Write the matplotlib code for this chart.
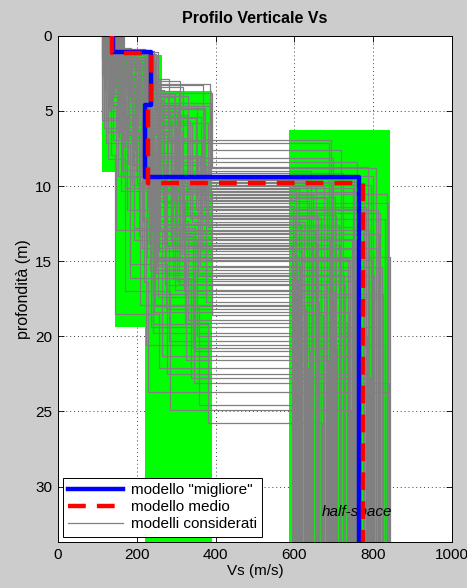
import matplotlib.pyplot as plt

plt.rcParams['font.family'] = ['Liberation Sans', 'DejaVu Sans']

# search ranges (green boxes): vs min, vs max, depth top, depth bottom
box_vmin = [111, 145, 220, 587]
box_vmax = [175, 265, 392, 843]
box_ztop = [1.1, 1.3, 3.7, 6.25]
box_zbot = [9.05, 19.4, 40.0, 40.0]

# considered models (grey)
vs1 = [118, 125, 131, 144, 152, 160, 113, 137, 149, 127, 165, 121, 141, 134, 156, 116, 147, 129, 162, 139,
       123, 153, 114, 143, 136, 158, 126, 150, 119, 133, 145, 167, 128, 154, 117, 138, 148, 124, 161, 131,
       142, 115, 157, 135, 122, 151, 130, 164, 120, 146, 139, 127, 155, 112, 143, 133, 159, 121, 148, 136,
       119, 146, 132, 158, 124, 141, 113, 150, 136, 163, 128, 144, 117, 155, 139, 122, 160, 133, 147, 115,
       152, 126, 142, 166, 130, 137, 118, 157, 145, 125, 161, 134, 149, 114, 140, 129, 153, 121, 143, 135]
z1 = [1.3, 2.1, 0.9, 3.4, 1.7, 5.2, 2.6, 1.1, 4.0, 1.9, 7.3, 1.4, 2.9, 1.0, 3.8, 6.1, 1.6, 2.3, 8.9, 1.2,
      4.6, 2.0, 1.5, 3.1, 0.8, 5.8, 2.5, 1.8, 3.6, 1.3, 2.2, 4.3, 1.0, 6.7, 2.8, 1.6, 3.3, 1.2, 2.4, 5.0,
      1.9, 1.4, 3.0, 7.9, 2.0, 1.1, 4.8, 2.7, 1.7, 3.5, 1.3, 6.4, 2.2, 1.5, 4.1, 0.9, 2.6, 5.5, 1.8, 3.2,
      1.5, 2.4, 1.0, 3.7, 1.2, 2.0, 5.6, 1.4, 2.8, 1.1, 4.4, 1.8, 3.1, 1.3, 6.9, 2.2, 1.6, 3.9, 1.0, 2.5,
      1.7, 8.2, 1.2, 2.9, 1.9, 4.7, 1.4, 2.1, 3.4, 1.1, 5.3, 1.5, 2.6, 1.3, 3.8, 2.3, 1.6, 7.1, 1.9, 2.7]
vs2 = [188, 232, 164, 210, 247, 175, 221, 199, 152, 238, 183, 206, 258, 170, 226, 193, 149, 215, 241, 180,
       230, 161, 203, 252, 186, 219, 172, 236, 197, 155, 224, 245, 178, 209, 167, 233, 191, 250, 158, 213,
       228, 184, 201, 146, 239, 176, 217, 255, 195, 163, 229, 207, 181, 243, 169, 222, 190, 235, 154, 212,
       205, 168, 244, 187, 226, 151, 214, 237, 179, 198, 256, 162, 220, 185, 249, 173, 208, 234, 157, 196,
       227, 171, 242, 189, 216, 148, 203, 231, 166, 253, 192, 218, 177, 240, 160, 211, 225, 182, 248, 199]
z2 = [4.2, 6.0, 3.5, 8.1, 5.0, 11.6, 4.9, 3.9, 9.3, 6.8, 15.2, 4.5, 7.4, 3.0, 10.5, 12.8, 5.6, 4.8, 19.2, 4.1,
      13.7, 5.3, 6.2, 7.0, 2.9, 16.4, 5.9, 4.6, 9.0, 3.8, 7.7, 11.0, 4.4, 17.9, 6.5, 4.3, 8.6, 5.1, 6.3, 14.1,
      5.5, 4.0, 9.8, 18.5, 4.7, 3.6, 12.3, 7.2, 5.4, 8.3, 4.9, 13.3, 6.6, 3.7, 10.1, 4.5, 7.9, 14.8, 5.2, 8.8,
      5.1, 7.3, 3.3, 9.9, 4.0, 6.4, 12.1, 4.7, 8.5, 3.4, 11.3, 5.8, 8.9, 4.2, 15.6, 6.9, 5.0, 10.8, 3.2, 7.6,
      5.7, 17.0, 4.3, 8.0, 6.1, 12.9, 4.8, 6.7, 9.4, 3.9, 13.6, 5.3, 7.1, 4.4, 10.3, 6.0, 5.5, 16.1, 6.4, 7.8]
vs3 = [262, 318, 231, 355, 287, 240, 371, 298, 226, 334, 276, 389, 251, 310, 236, 347, 268, 222, 382, 294,
       245, 327, 259, 365, 283, 229, 340, 305, 272, 391, 248, 322, 234, 358, 290, 266, 376, 238, 314, 281,
       350, 224, 301, 256, 385, 270, 331, 243, 362, 296, 228, 343, 278, 308, 253, 369, 233, 325, 286, 247,
       302, 257, 367, 241, 329, 286, 223, 353, 274, 317, 237, 380, 292, 261, 345, 227, 309, 273, 387, 250,
       336, 284, 232, 360, 299, 264, 374, 242, 320, 279, 352, 230, 311, 255, 390, 288, 239, 338, 269, 306]
z3 = [10.2, 13.5, 7.1, 16.0, 9.6, 19.8, 11.3, 9.1, 14.7, 12.0, 22.5, 10.7, 15.3, 8.4, 17.2, 21.0, 12.6, 9.9, 25.8, 10.9,
      18.4, 11.8, 13.0, 14.2, 6.9, 23.7, 12.4, 9.5, 16.6, 8.8, 15.8, 19.1, 10.4, 24.6, 13.9, 11.1, 17.7, 12.9, 14.5, 20.3,
      11.6, 10.0, 16.3, 22.1, 9.3, 8.1, 18.9, 15.0, 12.2, 16.9, 11.4, 20.8, 14.0, 9.7, 17.4, 10.6, 15.6, 21.6, 13.2, 18.0,
      11.9, 14.3, 8.7, 17.9, 10.1, 13.1, 20.6, 10.8, 15.9, 9.0, 19.4, 12.7, 16.2, 9.8, 23.1, 13.8, 11.5, 18.2, 7.6, 14.9,
      12.1, 24.9, 10.3, 15.4, 13.4, 21.3, 11.0, 14.1, 17.0, 9.4, 20.0, 12.5, 14.8, 10.5, 18.6, 13.6, 12.0, 22.8, 13.9, 16.5]
vs4 = [612, 745, 688, 803, 631, 770, 596, 724, 842, 659, 787, 703, 615, 758, 826, 640, 712, 795, 671, 603,
       739, 818, 652, 765, 692, 834, 624, 750, 681, 808, 598, 733, 777, 645, 715, 838, 663, 790, 607, 727,
       812, 676, 754, 635, 799, 698, 620, 741, 830, 667, 782, 709, 593, 761, 822, 648, 736, 685, 815, 626,
       705, 619, 786, 662, 748, 597, 829, 683, 727, 641, 806, 752, 610, 695, 840, 657, 773, 629, 719, 797,
       668, 744, 605, 821, 690, 763, 637, 811, 701, 654, 784, 617, 735, 836, 673, 756, 601, 793, 644, 729]

# best and mean models
best_vs = [140, 235, 220, 765]
best_z = [1.1, 4.6, 9.4]
mean_vs = [137, 236, 229, 775]
mean_z = [1.15, 4.7, 9.8]

z_end = 40.0


def profile(vs, z):
    xs, ys = [], []
    tops = [0.0] + list(z)
    bots = list(z) + [z_end]
    for v, t, b in zip(vs, tops, bots):
        xs += [v, v]
        ys += [t, b]
    return xs, ys


fig = plt.figure(figsize=(4.67, 5.88), dpi=100, facecolor='#cccccc')
ax = fig.add_axes([0.124, 0.078, 0.844, 0.861])

for a, b, t, bt in zip(box_vmin, box_vmax, box_ztop, box_zbot):
    ax.fill_between([a, b], t, bt, color='#00ff00', lw=0, zorder=1)

for i in range(len(vs1)):
    xs, ys = profile([vs1[i], vs2[i], vs3[i], vs4[i]], [z1[i], z2[i], z3[i]])
    ax.plot(xs, ys, color='#808080', lw=0.9, zorder=2,
            label='modelli considerati' if i == 0 else None)

ax.text(670, 31.7, 'half-space', fontstyle='italic', fontsize=11, va='center', zorder=2.5)

xs, ys = profile(best_vs, best_z)
ax.plot(xs, ys, color='#0000ff', lw=3.2, zorder=3, label='modello "migliore"')
xs, ys = profile(mean_vs, mean_z)
ax.plot(xs, ys, color='#ff0000', lw=3.2, ls=(0, (4, 2.5)), zorder=4, label='modello medio')

ax.set_xlim(0, 1000)
ax.set_ylim(33.7, 0)
ax.set_xticks([0, 200, 400, 600, 800, 1000])
ax.set_yticks([0, 5, 10, 15, 20, 25, 30])
ax.tick_params(direction='in', top=True, right=True, labelsize=11, length=4, width=0.6, pad=4)
ax.grid(True, ls=(0, (1, 3)), color='#404040', lw=0.7)
ax.set_axisbelow(True)
for s in ax.spines.values():
    s.set_linewidth(0.7)

ax.set_title('Profilo Verticale Vs', fontsize=11.5, fontweight='bold', pad=9)
ax.set_xlabel('Vs (m/s)', fontsize=11, labelpad=2)
ax.set_ylabel('profondità (m)', fontsize=11.5, labelpad=3)

h, l = ax.get_legend_handles_labels()
order = [1, 2, 0]
leg = ax.legend([h[k] for k in order], [l[k] for k in order], loc='lower left',
                bbox_to_anchor=(0.005, 0.005), fontsize=11, handlelength=3.6, fancybox=False,
                framealpha=1, edgecolor='black', borderpad=0.35, labelspacing=0.2,
                handletextpad=0.5, borderaxespad=0.2)
leg.get_frame().set_linewidth(0.7)
leg.set_zorder(10)

plt.savefig('out.png', dpi=100, facecolor='#cccccc')
